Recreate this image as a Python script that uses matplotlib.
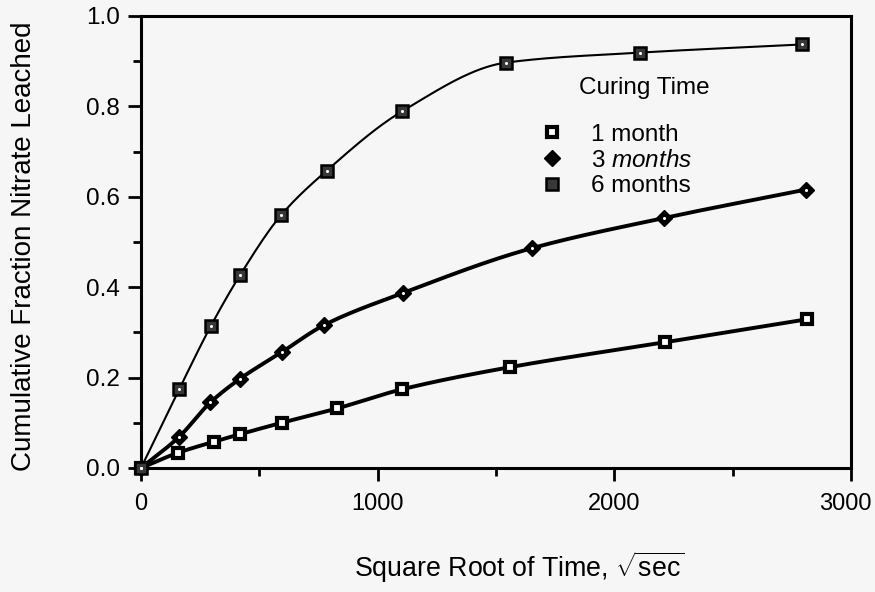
import numpy as np
import matplotlib
matplotlib.use("Agg")
import matplotlib.pyplot as plt
import matplotlib.transforms as mtransforms
from matplotlib.ticker import MultipleLocator, FormatStrFormatter

# Values (x = sqrt of seconds, y = cumulative fraction)
x_1m = [0, 158, 307, 420, 594, 830, 1102, 1558, 2212, 2814]
y_1m = [0.0, 0.034, 0.058, 0.075, 0.100, 0.132, 0.174, 0.223, 0.278, 0.329]

x_3m = [0, 161, 293, 420, 594, 773, 1106, 1650, 2209, 2810]
y_3m = [0.0, 0.069, 0.145, 0.198, 0.256, 0.316, 0.387, 0.486, 0.553, 0.616]

x_6m = [0, 161, 296, 420, 593, 785, 1103, 1544, 2110, 2792]
y_6m = [0.0, 0.174, 0.315, 0.428, 0.560, 0.658, 0.789, 0.897, 0.919, 0.937]

labels = ["1 month", "3 $\\it{months}$", "6 months"]
xticks = [0, 1000, 2000, 3000]
xticklabels = ["0", "1000", "2000", "3000"]

plt.rcParams["font.family"] = ["Liberation Sans", "DejaVu Sans"]
plt.rcParams["mathtext.fontset"] = "custom"
plt.rcParams["mathtext.rm"] = "Liberation Sans"
plt.rcParams["mathtext.it"] = "Liberation Sans:italic"


def smooth(x, y, n=40):
    # monotone cubic (pchip) path through the measured points, for drawing only
    x = np.asarray(x, float)
    y = np.asarray(y, float)
    h = np.diff(x)
    d = np.diff(y) / h
    m = np.zeros_like(y)
    for i in range(1, len(x) - 1):
        if d[i - 1] * d[i] > 0:
            w1 = 2 * h[i] + h[i - 1]
            w2 = h[i] + 2 * h[i - 1]
            m[i] = (w1 + w2) / (w1 / d[i - 1] + w2 / d[i])
    m[0] = d[0]
    m[-1] = d[-1]
    xs, ys = [], []
    for i in range(len(x) - 1):
        t = np.linspace(0, 1, n, endpoint=False)
        h00 = 2 * t**3 - 3 * t**2 + 1
        h10 = t**3 - 2 * t**2 + t
        h01 = -2 * t**3 + 3 * t**2
        h11 = t**3 - t**2
        xs.append(x[i] + t * h[i])
        ys.append(h00 * y[i] + h10 * h[i] * m[i] + h01 * y[i + 1] + h11 * h[i] * m[i + 1])
    xs.append([x[-1]])
    ys.append([y[-1]])
    return np.concatenate(xs), np.concatenate(ys)


bg = "#f6f6f6"
fig = plt.figure(figsize=(8.75, 5.92), dpi=100, facecolor=bg)
ax = fig.add_axes([141 / 875, 1 - 468 / 592, 710 / 875, 452 / 592], facecolor=bg)

# curves
sx, sy = smooth(x_1m, y_1m)
ax.plot(sx, sy, color="black", lw=2.8, zorder=2)
sx, sy = smooth(x_3m, y_3m)
ax.plot(sx, sy, color="black", lw=2.8, zorder=2)
sx, sy = smooth(x_6m, y_6m)
ax.plot(sx, sy, color="black", lw=1.5, zorder=2)

# markers
h1, = ax.plot(x_1m, y_1m, ls="none", marker="s", ms=7.5, mfc="white", mec="black",
              mew=3.0, clip_on=False, zorder=3)
h3, = ax.plot(x_3m, y_3m, ls="none", marker="D", ms=8.5, mfc="black", mec="black",
              mew=1.0, clip_on=False, zorder=3)
h6, = ax.plot(x_6m, y_6m, ls="none", marker="s", ms=8.5, mfc="0.22", mec="black",
              mew=1.8, clip_on=False, zorder=3)
ax.plot(x_3m, y_3m, ls="none", marker="o", ms=2.2, mfc="white", mew=0, clip_on=False, zorder=4)
ax.plot(x_6m, y_6m, ls="none", marker="o", ms=2.2, mfc="white", mew=0, clip_on=False, zorder=4)

ax.set_xlim(0, 3000)
ax.set_ylim(0, 1.0)
ax.set_xticks(xticks, xticklabels)
ax.xaxis.set_minor_locator(MultipleLocator(500))
ax.yaxis.set_major_locator(MultipleLocator(0.2))
ax.yaxis.set_minor_locator(MultipleLocator(0.1))
ax.yaxis.set_major_formatter(FormatStrFormatter("%.1f"))

ax.tick_params(axis="both", which="major", direction="out", length=9.4, width=2,
               labelsize=17.5, pad=5.8)
ax.tick_params(axis="both", which="minor", direction="out", length=6, width=2)
ax.tick_params(axis="x", which="major", labelsize=17, pad=8.6)
for s in ax.spines.values():
    s.set_linewidth(2.2)

# "3000" sits against the right edge of the figure, nudge it left a little
last = ax.xaxis.get_major_ticks()[3].label1
last.set_transform(last.get_transform()
                   + mtransforms.ScaledTranslation(-6 / 100, 0, fig.dpi_scale_trans))

ax.set_ylabel("Cumulative Fraction Nitrate Leached", fontsize=20)
ax.yaxis.set_label_coords(-0.146, 0.49)
ax.set_xlabel("Square Root of Time, $\\sqrt{\\mathrm{sec}}$", fontsize=19.3)
ax.xaxis.label.set_va("baseline")
ax.xaxis.set_label_coords(0.533, -0.241)

leg = ax.legend([h1, h3, h6], labels, loc="center left", bbox_to_anchor=(0.562, 0.680),
                frameon=False, fontsize=17.5, labelspacing=0.15, handlelength=1.0,
                handletextpad=1.1, borderaxespad=0, borderpad=0)
ax.text(0.709, 0.827, "Curing Time", transform=ax.transAxes, fontsize=17.5,
        ha="center", va="baseline")

fig.savefig("out.png", dpi=100, facecolor=bg)
